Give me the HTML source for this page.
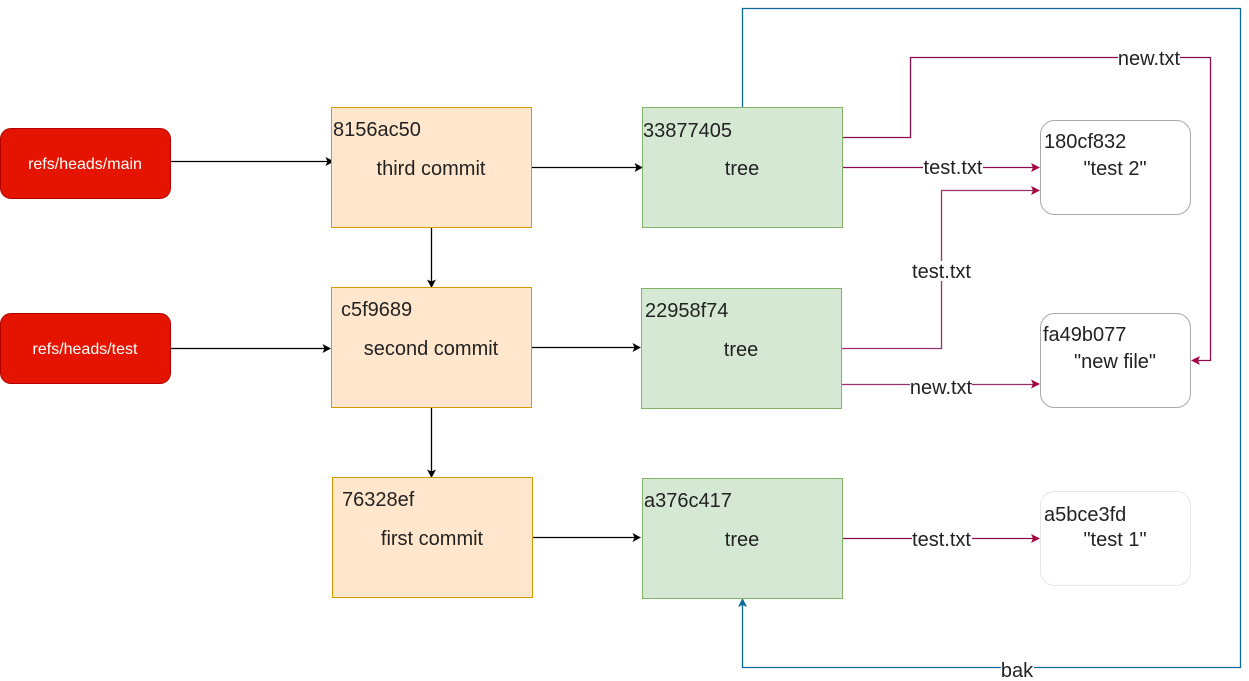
<!DOCTYPE html>
<html>
<head>
<meta charset="utf-8">
<style>
html,body{margin:0;padding:0;background:#fff;width:1249px;height:681px;overflow:hidden}
svg{display:block;position:absolute;left:0;top:0}
text{font-family:"Liberation Sans",sans-serif;font-size:20px;fill:#222}
.c{text-anchor:middle}
.w{font-size:16px;fill:#fff;text-anchor:middle}
.l{stroke:#000;fill:none;stroke-width:1.3}
.p{stroke:#8b0d4f;fill:none;stroke-width:1.3}
.b{stroke:#0e6a98;fill:none;stroke-width:1.3}
.o{fill:#ffe6cc;stroke:#d79b00;stroke-width:1}
.g{fill:#d5e8d4;stroke:#82b366;stroke-width:1}
.r{fill:#e51400;stroke:#b20000;stroke-width:1}
.f{fill:#fff;stroke:#aaa;stroke-width:1}
</style>
</head>
<body>
<svg width="1249" height="681" viewBox="0 0 1249 681" xmlns="http://www.w3.org/2000/svg">
<!-- connectors -->
<path class="l" d="M171 161.500H328"/>
<path d="M334 161.500l-8.500-4.500 2 4.500-2 4.500z" fill="#000"/>
<path class="l" d="M171 348.500H325"/>
<path d="M331 348.500l-8.500-4.500 2 4.500-2 4.500z" fill="#000"/>
<path class="l" d="M531 167.500H637"/>
<path d="M643 167.500l-8.500-4.500 2 4.500-2 4.500z" fill="#000"/>
<path class="l" d="M531 347.500H635"/>
<path d="M641 347.500l-8.500-4.500 2 4.500-2 4.500z" fill="#000"/>
<path class="l" d="M532 537.500H635"/>
<path d="M641 537.500l-8.500-4.500 2 4.500-2 4.500z" fill="#000"/>
<path class="l" d="M431.500 227V282"/>
<path d="M431.500 288l-4.500-8.500 4.500 2 4.500-2z" fill="#000"/>
<path class="l" d="M431.500 407V472"/>
<path d="M431.500 478l-4.500-8.500 4.500 2 4.500-2z" fill="#000"/>

<path class="b" d="M742.500 107V8.500H1240.500V667.500H742.500V605"/>
<path d="M742.500 598l-4.500 9 4.500-2 4.500 2z" fill="#0e6a98"/>

<path class="p" d="M843 137.500H910.500V57.500H1210.500V360.500H1197"/>
<path d="M1191 360.500l9-4.500-2 4.500 2 4.500z" fill="#a50040"/>
<path class="p" d="M843 167.500H1034"/>
<path d="M1040 167.500l-9-4.500 2 4.500-2 4.500z" fill="#a50040"/>
<path class="p" d="M842 348.500H941.500V190.500H1034" stroke-opacity=".85"/>
<path d="M1040 190.500l-9-4.500 2 4.500-2 4.500z" fill="#a50040"/>
<path class="p" d="M842 384.500H1034" stroke-opacity=".85"/>
<path d="M1040 384l-9-4.500 2 4.500-2 4.500z" fill="#a50040"/>
<path class="p" d="M843 538.500H1034"/>
<path d="M1040 538.500l-9-4.500 2 4.500-2 4.500z" fill="#a50040"/>

<!-- refs -->
<rect class="r" x="0.500" y="128.500" width="170" height="70" rx="10.500"/>
<text class="w" x="85" y="169">refs/heads/main</text>
<rect class="r" x="0.500" y="313.500" width="170" height="70" rx="10.500"/>
<text class="w" x="85" y="354">refs/heads/test</text>

<!-- commits -->
<rect class="o" x="331.500" y="107.500" width="200" height="120"/>
<text x="333" y="136">8156ac50</text>
<text class="c" x="431" y="175">third commit</text>
<rect class="o" x="331.500" y="287.500" width="200" height="120"/>
<text x="341" y="316">c5f9689</text>
<text class="c" x="431" y="355">second commit</text>
<rect class="o" x="332.500" y="477.500" width="200" height="120"/>
<text x="342" y="506">76328ef</text>
<text class="c" x="432" y="545">first commit</text>

<!-- trees -->
<rect class="g" x="642.500" y="107.500" width="200" height="120"/>
<text x="643" y="137">33877405</text>
<text class="c" x="742" y="175">tree</text>
<rect class="g" x="641.500" y="288.500" width="200" height="120"/>
<text x="645" y="317">22958f74</text>
<text class="c" x="741" y="356">tree</text>
<rect class="g" x="642.500" y="478.500" width="200" height="120"/>
<text x="644" y="507">a376c417</text>
<text class="c" x="742" y="546">tree</text>

<!-- blobs -->
<rect class="f" x="1040.500" y="120.500" width="150" height="94" rx="14"/>
<text x="1044" y="148">180cf832</text>
<text class="c" x="1115" y="175">"test 2"</text>
<rect class="f" x="1040.500" y="313.500" width="150" height="94" rx="14"/>
<text x="1043" y="341">fa49b077</text>
<text class="c" x="1115" y="368">"new file"</text>
<rect class="f" x="1040.500" y="491.500" width="150" height="94" rx="14" style="stroke:#e6e6e6"/>
<text x="1044" y="521">a5bce3fd</text>
<text class="c" x="1115" y="546">"test 1"</text>

<!-- edge labels -->
<rect x="1118" y="48" width="62" height="20" fill="#fff"/>
<text class="c" x="1149" y="65">new.txt</text>
<rect x="923" y="158" width="60" height="20" fill="#fff"/>
<text class="c" x="953" y="174">test.txt</text>
<rect x="912" y="261" width="60" height="20" fill="#fff"/>
<text class="c" x="941.500" y="278">test.txt</text>
<rect x="910" y="377" width="62" height="20" fill="#fff"/>
<text class="c" x="941" y="394">new.txt</text>
<rect x="912" y="529" width="60" height="20" fill="#fff"/>
<text class="c" x="941.500" y="546">test.txt</text>
<rect x="1001" y="658" width="33" height="20" fill="#fff"/>
<text class="c" x="1017" y="677">bak</text>
</svg>
</body>
</html>
